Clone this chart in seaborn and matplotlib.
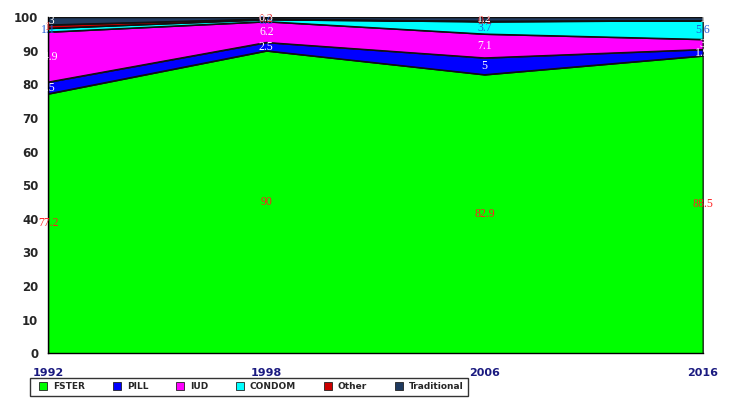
import matplotlib
matplotlib.use("Agg")
import matplotlib.pyplot as plt
from matplotlib.lines import Line2D
import numpy as np
import pandas as pd
import seaborn as sns

# Contraceptive method mix by survey year (percent of users)
years = ["1992", "1998", "2006", "2016"]
fster = [77.2, 90.0, 82.9, 88.5]
pill = [3.5, 2.5, 5.0, 1.9]
iud = [14.9, 6.2, 7.1, 3.0]
condom = [1.1, 0.6, 3.7, 5.6]
other = [1.0, 0.2, 0.1, 0.0]
traditional = [2.3, 0.5, 1.2, 1.0]

methods = ["FSTER", "PILL", "IUD", "CONDOM", "Other", "Traditional"]
colors = ["#00FF00", "#0000FF", "#FF00FF", "#00FFFF", "#CC0000", "#1F3A5F"]
label_colors = ["#FF2020", "white", "white", "#1E5AD8", "#E02020", "white"]

df = pd.DataFrame({"year": years, "FSTER": fster, "PILL": pill, "IUD": iud,
                   "CONDOM": condom, "Other": other, "Traditional": traditional})

sns.set_style("white")
plt.rcParams["font.family"] = ["DejaVu Sans"]

fig = plt.figure(figsize=(7.29, 3.99), dpi=100)
ax = fig.add_axes([0.066, 0.115, 0.898, 0.842])

x = np.arange(len(years))
vals = np.array([df[m].values for m in methods])
ax.stackplot(x, vals, colors=colors, edgecolor="#101010", linewidth=0.8)

# boundary lines along the stacked tops
cum = np.cumsum(vals, axis=0)
for row in cum:
    sns.lineplot(x=x, y=row, ax=ax, color="#101010", linewidth=0.8, legend=False)

# value labels at the middle of each band
for i, m in enumerate(methods):
    bottoms = cum[i] - vals[i]
    for j in range(len(years)):
        v = vals[i][j]
        if v <= 0:
            continue
        ax.text(x[j], bottoms[j] + v / 2, f"{v:g}", ha="center", va="center",
                color=label_colors[i], fontsize=8.5, family="Liberation Serif",
                clip_on=False, zorder=5)

ax.set_xlim(0, len(years) - 1)
ax.set_ylim(0, 100)
ax.set_yticks(range(0, 101, 10))
ax.set_xticks(x)
ax.set_xticklabels(years)
ax.set_xlabel("")
ax.set_ylabel("")

for s in ["top", "right"]:
    ax.spines[s].set_visible(False)
ax.spines["left"].set_color("black")
ax.spines["bottom"].set_color("black")
ax.spines["left"].set_linewidth(1.0)
ax.spines["bottom"].set_linewidth(1.0)
ax.axvline(x[-1], color="black", linewidth=1.0, zorder=4)

ax.tick_params(axis="y", direction="out", length=4, width=1, color="black",
               labelsize=8.5, pad=3)
ax.tick_params(axis="x", direction="out", length=4, width=1, color="black",
               labelsize=8, pad=7, labelcolor="#1a1a80")
for lbl in ax.get_yticklabels() + ax.get_xticklabels():
    lbl.set_fontweight("bold")

handles = [Line2D([0], [0], marker="s", linestyle="none", markersize=6,
                  markerfacecolor=c, markeredgecolor="#222222", markeredgewidth=0.6)
           for c in colors]
leg = fig.legend(handles, methods, loc="upper left", ncol=6,
                 bbox_to_anchor=(0.041, 0.053, 0.601, 0.0), mode="expand",
                 frameon=True, fancybox=False, handletextpad=0.1,
                 borderaxespad=0, prop={"size": 6.5, "weight": "bold"},
                 borderpad=0.5)
leg.get_frame().set_edgecolor("black")
leg.get_frame().set_linewidth(1.0)

fig.savefig("out.png", dpi=100, facecolor="white")
